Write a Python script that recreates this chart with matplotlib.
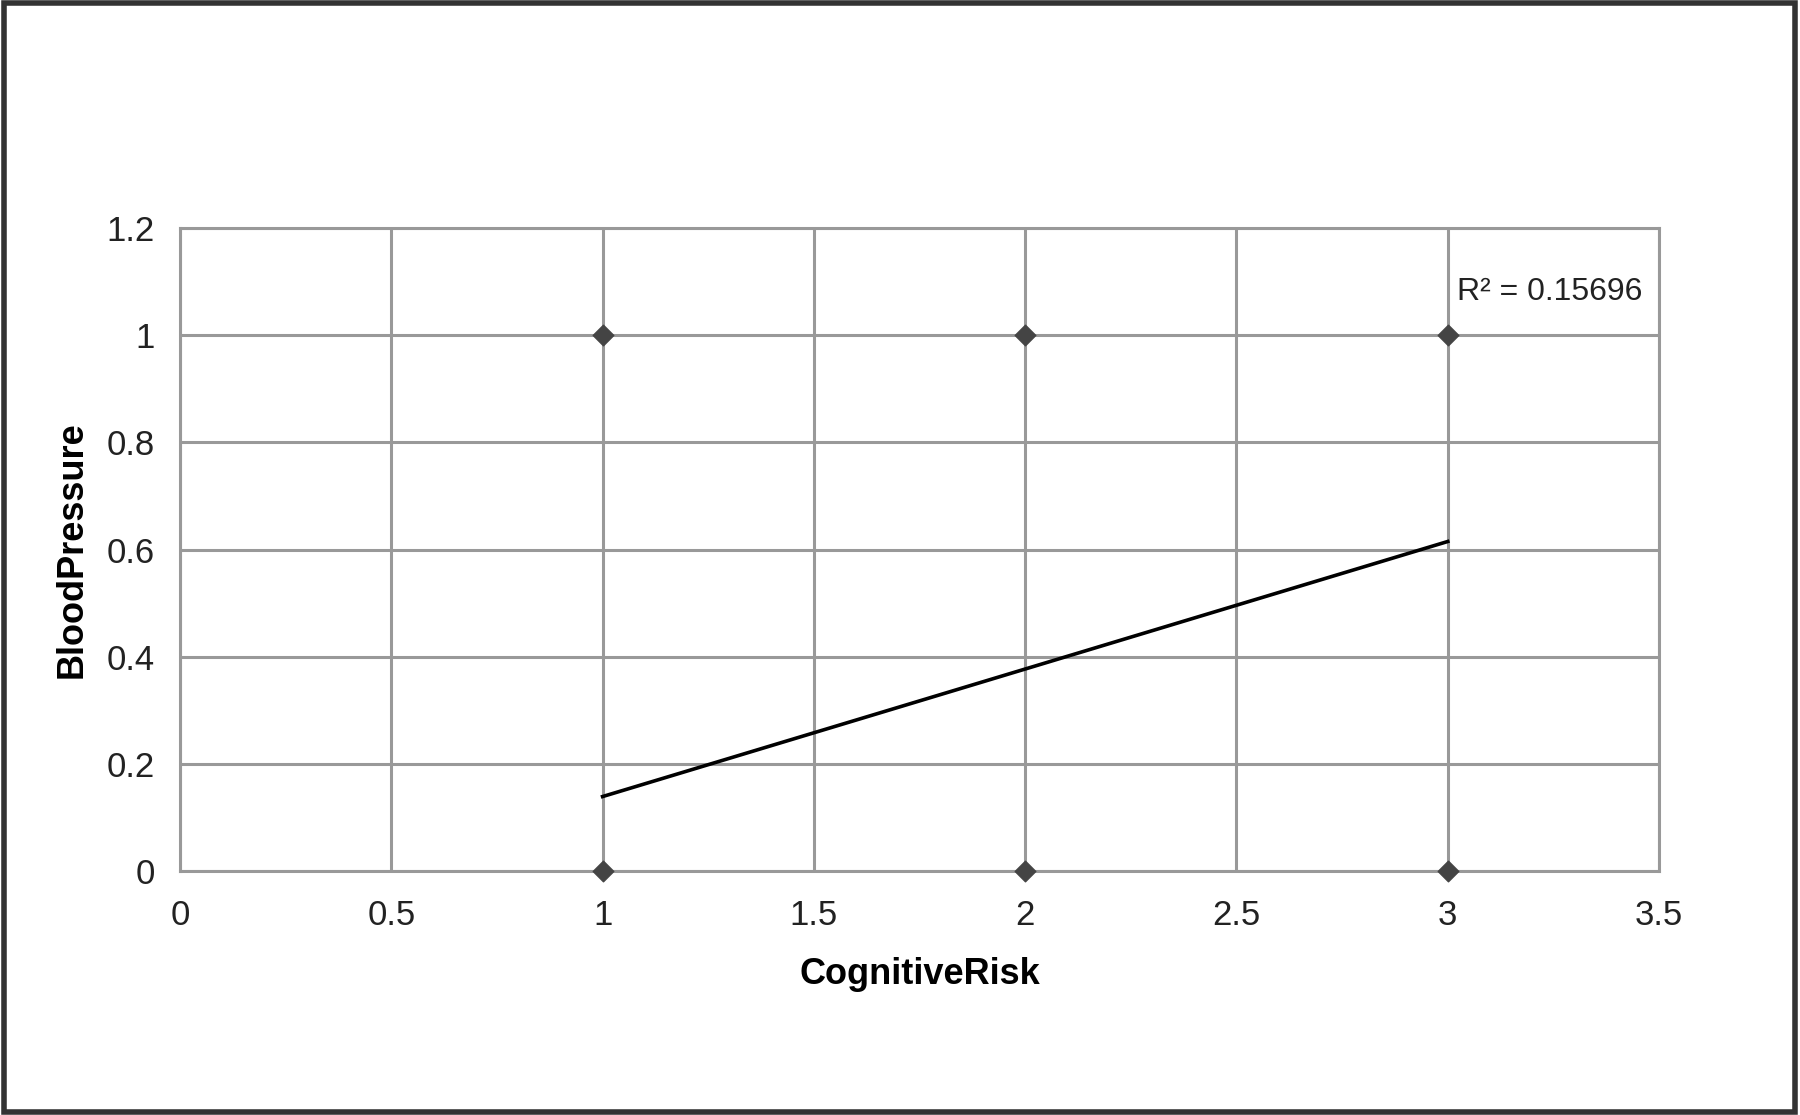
import numpy as np
import matplotlib.pyplot as plt
from matplotlib.patches import Rectangle

plt.rcParams['font.family'] = ['Liberation Sans', 'DejaVu Sans']

# data points (CognitiveRisk, BloodPressure)
risk = [1, 2, 3, 1, 2, 3]
pressure = [1, 1, 1, 0, 0, 0]
# linear trend line end points
trend_x = [1, 3]
trend_y = [0.139, 0.615]
r2_text = 'R² = 0.15696'

xticks = [0, 0.5, 1, 1.5, 2, 2.5, 3, 3.5]
xtick_labels = ['0', '0.5', '1', '1.5', '2', '2.5', '3', '3.5']
yticks = [0, 0.2, 0.4, 0.6, 0.8, 1.0, 1.2]
ytick_labels = ['0', '0.2', '0.4', '0.6', '0.8', '1', '1.2']

fig = plt.figure(figsize=(18, 11.15), dpi=100)
ax = fig.add_axes([0.1, 0.2188, 0.8217, 0.5767])

grid_c = '#999999'
ax.set_xlim(0, 3.5)
ax.set_ylim(0, 1.2)
ax.set_xticks(xticks)
ax.set_xticklabels(xtick_labels)
ax.set_yticks(yticks)
ax.set_yticklabels(ytick_labels)
ax.grid(True, color=grid_c, linewidth=2.2)
ax.set_axisbelow(True)
for s in ax.spines.values():
    s.set_color(grid_c)
    s.set_linewidth(2.2)
ax.tick_params(length=0, labelsize=25, colors='#222222', pad=18)
ax.tick_params(axis='x', pad=20)

ax.plot(trend_x, trend_y, color='black', linewidth=2.6, zorder=3)
ax.scatter(risk, pressure, marker='D', s=110, color='#444444', zorder=4,
           clip_on=False)

ax.text(3.022, 1.08, r2_text, fontsize=23, color='#222222', va='center',
        ha='left')

ax.set_xlabel('CognitiveRisk', fontsize=26, fontweight='bold', labelpad=18)
ax.set_ylabel('BloodPressure', fontsize=26, fontweight='bold', labelpad=12)

# outer frame of the figure
fig.patches.append(Rectangle((0.002, 0.003), 0.995, 0.994, transform=fig.transFigure,
                             fill=False, edgecolor='#333333', linewidth=4))

fig.savefig('out.png', dpi=100)
